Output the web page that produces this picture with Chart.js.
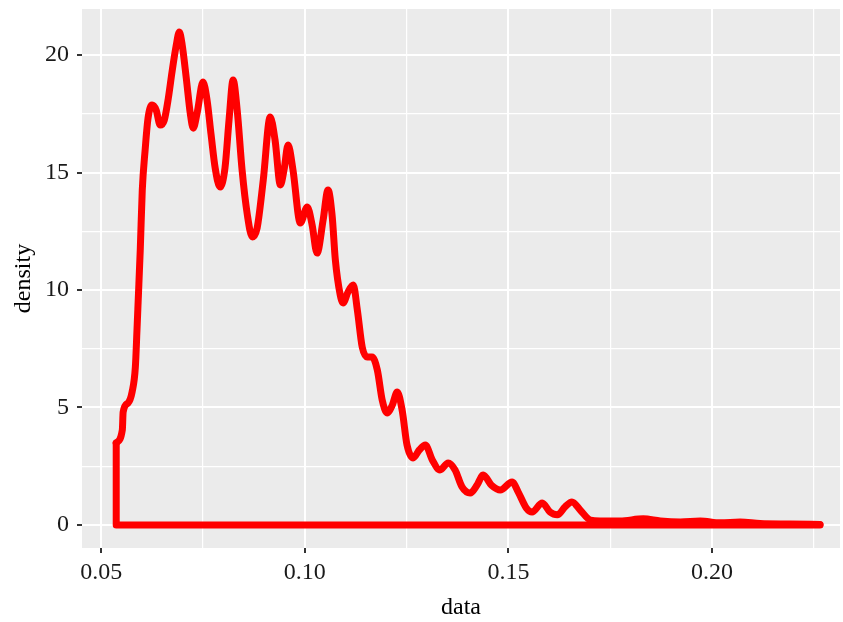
<!DOCTYPE html>
<html>
<head>
<meta charset="utf-8">
<script src="https://cdn.jsdelivr.net/npm/chart.js@4.4.1/dist/chart.umd.min.js"></script>
<style>
  html, body { margin: 0; padding: 0; background: #fff; }
  #wrap { width: 843px; height: 622px; }
</style>
</head>
<body>
<div id="wrap"><canvas id="densityChart" width="843" height="622"></canvas></div>
<script>
// kernel density estimate of the data column, read as (x, density) pairs
var densityX = [0.0537, 0.0552, 0.0554, 0.0566, 0.0576, 0.0584, 0.0588, 0.0591, 0.0596, 0.0601,
  0.0608, 0.0615, 0.0625, 0.0635, 0.0645, 0.0655, 0.0665, 0.0674, 0.0684, 0.0692,
  0.0699, 0.0709, 0.0719, 0.0726, 0.0736, 0.0750, 0.0760, 0.0770, 0.0780, 0.0792,
  0.0804, 0.0814, 0.0824, 0.0834, 0.0846, 0.0859, 0.0871, 0.0883, 0.0898, 0.0915,
  0.0927, 0.0940, 0.0949, 0.0959, 0.0971, 0.0989, 0.1006, 0.1018, 0.1030, 0.1045,
  0.1057, 0.1067, 0.1075, 0.1087, 0.1094, 0.1106, 0.1119, 0.1129, 0.1141, 0.1153,
  0.1165, 0.1178, 0.1190, 0.1202, 0.1215, 0.1227, 0.1239, 0.1251, 0.1266, 0.1281,
  0.1296, 0.1313, 0.1332, 0.1352, 0.1369, 0.1386, 0.1406, 0.1423, 0.1438, 0.1458,
  0.1480, 0.1509, 0.1524, 0.1544, 0.1558, 0.1583, 0.1602, 0.1620, 0.1639, 0.1656,
  0.1676, 0.1701, 0.1725, 0.1774, 0.1831, 0.1873, 0.1922, 0.1971, 0.2020, 0.2069,
  0.2118, 0.2192, 0.2265];
var densityY = [3.49, 4.04, 4.80, 5.19, 5.66, 6.72, 8.30, 9.57, 11.70, 14.26,
  15.96, 17.30, 17.87, 17.66, 17.02, 17.23, 18.17, 19.28, 20.38, 20.98,
  20.43, 19.02, 17.49, 16.89, 17.57, 18.85, 18.09, 16.60, 15.19, 14.38,
  15.19, 17.23, 18.94, 17.66, 15.11, 13.19, 12.26, 12.64, 14.68, 17.36,
  16.38, 14.47, 15.11, 16.17, 15.11, 12.85, 13.53, 12.77, 11.57, 12.98,
  14.26, 13.19, 11.28, 9.79, 9.45, 9.91, 10.21, 9.15, 7.57, 7.15,
  7.15, 6.60, 5.32, 4.77, 5.11, 5.66, 4.89, 3.40, 2.85, 3.19,
  3.40, 2.77, 2.34, 2.64, 2.34, 1.62, 1.36, 1.70, 2.13, 1.70,
  1.49, 1.83, 1.40, 0.72, 0.55, 0.94, 0.55, 0.43, 0.77, 0.98,
  0.64, 0.21, 0.17, 0.17, 0.26, 0.17, 0.13, 0.17, 0.09, 0.13,
  0.06, 0.04, 0.02];

// closing edge of the density outline: left riser and the zero baseline
var baseX = [0.0537, 0.0537, 0.2265];
var baseY = [3.49, 0, 0];

var xTicks = [0.05, 0.075, 0.10, 0.125, 0.15, 0.175, 0.20, 0.225];
var xLabels = ['0.05', '', '0.10', '', '0.15', '', '0.20', ''];
var yTicks = [0, 2.5, 5, 7.5, 10, 12.5, 15, 17.5, 20];
var yLabels = ['0', '', '5', '', '10', '', '15', '', '20'];

function pairs(xs, ys) {
  return xs.map(function(v, i) { return { x: v, y: ys[i] }; });
}

function isMajor(labels, i) {
  return labels[i] !== undefined && labels[i] !== '';
}

var panelBg = {
  id: 'panelBg',
  beforeDraw: function(chart) {
    var a = chart.chartArea;
    var ctx = chart.ctx;
    ctx.save();
    ctx.fillStyle = '#EBEBEB';
    ctx.fillRect(a.left, a.top, a.right - a.left, a.bottom - a.top);
    ctx.restore();
  }
};

var serif = "'Liberation Serif', 'Times New Roman', serif";

new Chart(document.getElementById('densityChart'), {
  type: 'line',
  data: {
    datasets: [{
      data: pairs(baseX, baseY),
      borderColor: '#FF0000',
      borderWidth: 7,
      borderCapStyle: 'round',
      borderJoinStyle: 'round',
      pointRadius: 0,
      tension: 0
    }, {
      data: pairs(densityX, densityY),
      borderColor: '#FF0000',
      borderWidth: 7,
      borderCapStyle: 'round',
      borderJoinStyle: 'round',
      pointRadius: 0,
      cubicInterpolationMode: 'monotone'
    }]
  },
  options: {
    responsive: false,
    animation: false,
    layout: { padding: { top: 9, right: 3, left: 0, bottom: 0 } },
    plugins: { legend: { display: false }, tooltip: { enabled: false } },
    scales: {
      x: {
        type: 'linear',
        min: 0.0453,
        max: 0.2314,
        afterBuildTicks: function(scale) {
          scale.ticks = xTicks.map(function(v) { return { value: v }; });
        },
        afterFit: function(scale) {
          scale.height = 74;
          scale.paddingLeft = 0;
          scale.paddingRight = 0;
        },
        border: { display: false },
        grid: {
          color: '#FFFFFF',
          lineWidth: function(c) { return isMajor(xLabels, c.index) ? 2 : 1.2; },
          tickColor: function(c) { return isMajor(xLabels, c.index) ? '#333333' : 'rgba(0,0,0,0)'; },
          tickLength: 5,
          tickWidth: 2
        },
        ticks: {
          autoSkip: false,
          maxRotation: 0,
          padding: 5,
          color: '#1A1A1A',
          font: { family: serif, size: 24 },
          callback: function(v, i) { return xLabels[i]; }
        },
        title: {
          display: true,
          text: 'data',
          color: '#000000',
          font: { family: serif, size: 24 },
          padding: { top: 0, bottom: 0 }
        }
      },
      y: {
        type: 'linear',
        min: -0.98,
        max: 21.96,
        afterBuildTicks: function(scale) {
          scale.ticks = yTicks.map(function(v) { return { value: v }; });
        },
        afterFit: function(scale) {
          scale.width = 82;
          scale.paddingTop = 0;
          scale.paddingBottom = 0;
        },
        border: { display: false },
        grid: {
          color: '#FFFFFF',
          lineWidth: function(c) { return isMajor(yLabels, c.index) ? 2 : 1.2; },
          tickColor: function(c) { return isMajor(yLabels, c.index) ? '#333333' : 'rgba(0,0,0,0)'; },
          tickLength: 5,
          tickWidth: 2
        },
        ticks: {
          autoSkip: false,
          padding: 8,
          color: '#1A1A1A',
          font: { family: serif, size: 24 },
          callback: function(v, i) { return yLabels[i]; }
        },
        title: {
          display: true,
          text: 'density',
          color: '#000000',
          font: { family: serif, size: 24 },
          padding: { top: 9, bottom: 0 }
        }
      }
    }
  },
  plugins: [panelBg]
});
</script>
</body>
</html>
